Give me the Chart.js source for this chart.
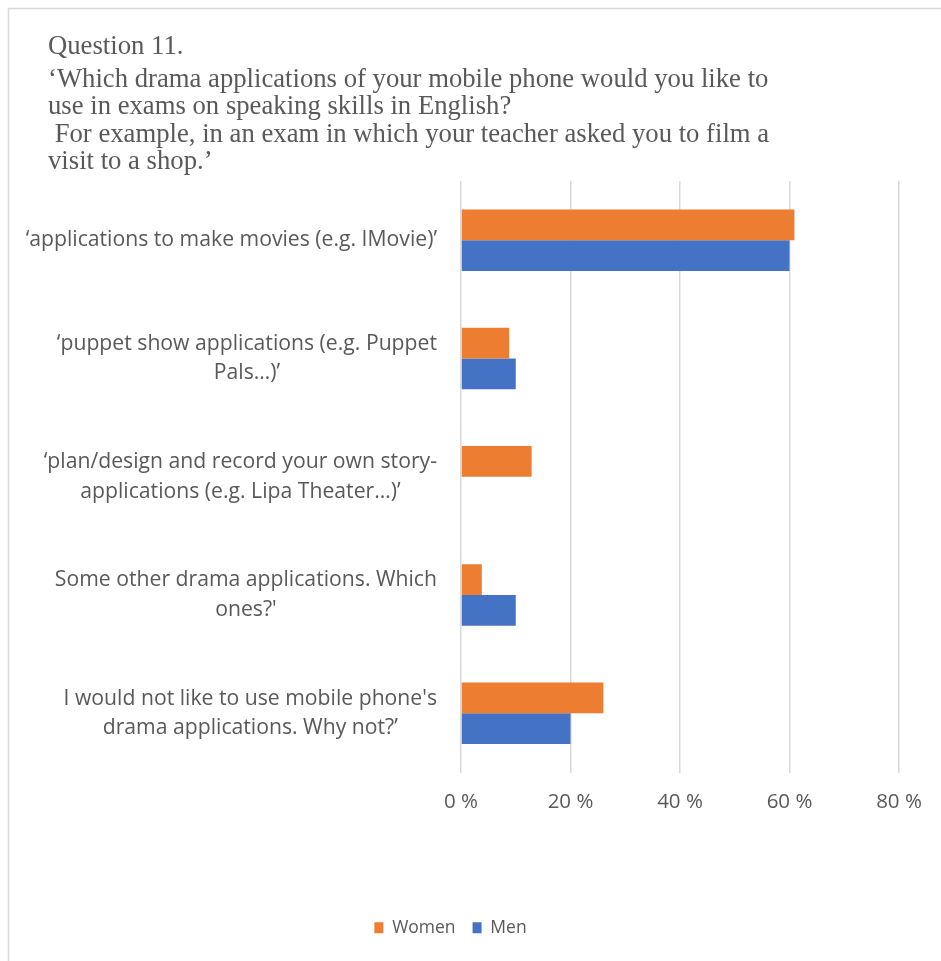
<!DOCTYPE html>
<html lang="en">
<head>
    <meta charset="UTF-8">
    <title>Question 11</title>
    <style>
        html, body { margin: 0; padding: 0; background: #fff; }
    </style>
</head>
<body>
    <canvas id="myChart" width="941" height="961"></canvas>
    <script src="https://cdn.jsdelivr.net/npm/chart.js"></script>
    <script>
        // chart data
        const titleLines = [
            "Question 11.",
            "\u2018Which drama applications of your mobile phone would you like to",
            "use in exams on speaking skills in English?",
            " For example, in an exam in which your teacher asked you to film a",
            "visit to a shop.\u2019"
        ]
        const categories = [
            ["\u2018applications to make movies (e.g. IMovie)\u2019"],
            ["\u2018puppet show applications (e.g. Puppet", "Pals\u2026)\u2019"],
            ["\u2018plan/design and record your own story-", "applications (e.g. Lipa Theater\u2026)\u2019"],
            ["Some other drama applications. Which", "ones?'"],
            ["I would not like to use mobile phone's", "drama applications. Why not?\u2019"]
        ]
        const seriesNames = ["Women", "Men"]
        const women = [60.9, 8.8, 12.9, 3.8, 26.0]
        const men = [60, 10, 0, 10, 20]
        const xTicks = [0, 20, 40, 60, 80]

        const grey = '#595959'
        const sans = '"Open Sans"'

        // frame + title, drawn behind the chart
        const framePlugin = {
            id: 'frame',
            beforeDraw(chart) {
                const ctx = chart.ctx
                ctx.save()
                ctx.strokeStyle = '#d9d9d9'
                ctx.lineWidth = 1.5
                ctx.beginPath()
                ctx.moveTo(8.5, 961)
                ctx.lineTo(8.5, 8.5)
                ctx.lineTo(941, 8.5)
                ctx.stroke()
                ctx.fillStyle = grey
                ctx.font = '26.7px "Liberation Serif"'
                ctx.textBaseline = 'alphabetic'
                ctx.fillText(titleLines[0], 48, 54)
                for (let i = 1; i < titleLines.length; i++) {
                    ctx.fillText(titleLines[i], 48, 87 + (i - 1) * 27.3)
                }
                ctx.restore()
            }
        }

        // category labels: each block right aligned, its lines centred
        const catLabelPlugin = {
            id: 'catLabels',
            afterDraw(chart) {
                const ctx = chart.ctx
                const yScale = chart.scales.y
                ctx.save()
                ctx.font = '21.2px ' + sans
                ctx.fillStyle = grey
                ctx.textAlign = 'center'
                ctx.textBaseline = 'middle'
                categories.forEach((lines, i) => {
                    const cy = yScale.getPixelForTick(i)
                    const w = Math.max(...lines.map(l => ctx.measureText(l).width))
                    const cx = yScale.right - 24 - w / 2
                    lines.forEach((l, j) => {
                        ctx.fillText(l, cx, cy + (j - (lines.length - 1) / 2) * 29.5)
                    })
                })
                ctx.restore()
            }
        }

        const cfg = {
            type: 'bar',
            data: {
                labels: categories,
                datasets: [
                    { label: seriesNames[0], data: women, backgroundColor: '#ED7D31' },
                    { label: seriesNames[1], data: men, backgroundColor: '#4472C4' }
                ]
            },
            options: {
                responsive: false,
                animation: false,
                indexAxis: 'y',
                categoryPercentage: 0.52,
                barPercentage: 1,
                layout: { padding: { top: 181, left: 2, right: 42, bottom: 14.5 } },
                scales: {
                    x: {
                        min: xTicks[0],
                        max: xTicks[xTicks.length - 1],
                        afterBuildTicks: s => { s.ticks = xTicks.map(v => ({ value: v })) },
                        afterFit: s => { s.height = 129.5 },
                        border: { display: false },
                        grid: { color: '#d9d9d9', lineWidth: 1.5, drawTicks: false },
                        ticks: {
                            padding: 17,
                            color: grey,
                            font: { family: sans, size: 20.5 },
                            callback: v => v + ' %'
                        }
                    },
                    y: {
                        afterFit: s => { s.width = 459 },
                        border: { display: false },
                        grid: { display: false },
                        ticks: { display: false }
                    }
                },
                plugins: {
                    legend: {
                        position: 'bottom',
                        labels: {
                            boxWidth: 9,
                            boxHeight: 11,
                            padding: 17,
                            color: grey,
                            font: { family: sans, size: 17.5 }
                        }
                    },
                    title: { display: false },
                    tooltip: { enabled: false }
                }
            },
            plugins: [framePlugin, catLabelPlugin]
        }
        const ctx = document.getElementById('myChart').getContext('2d')
        new Chart(ctx, cfg)
    </script>
</body>
</html>
